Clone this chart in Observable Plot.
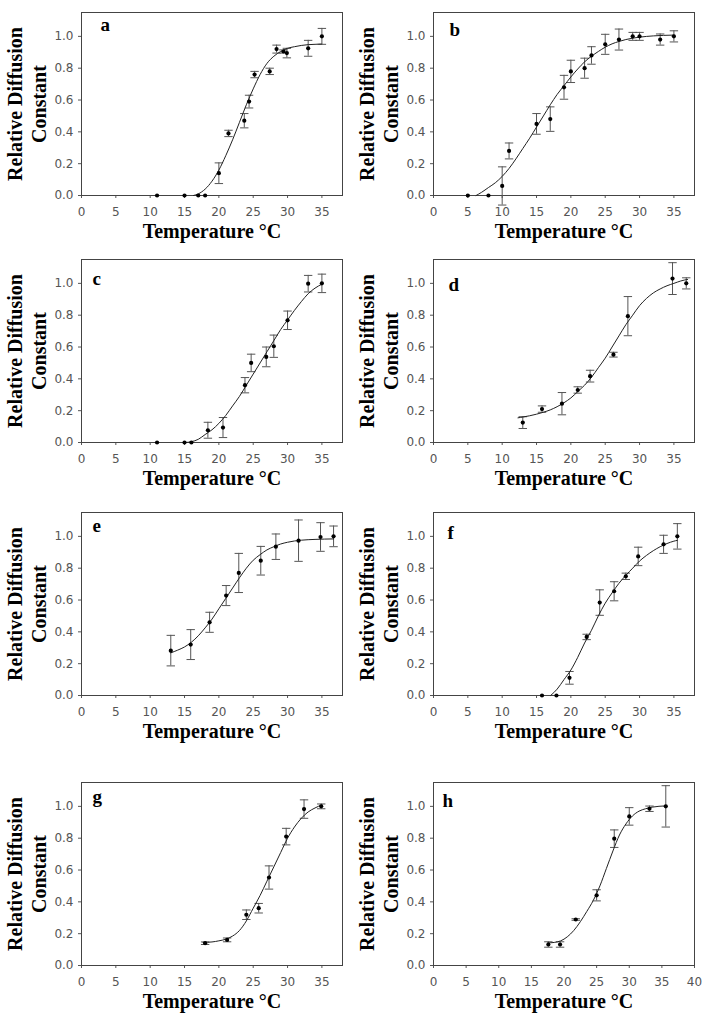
<!DOCTYPE html>
<html><head><meta charset="utf-8">
<script src="https://cdn.jsdelivr.net/npm/d3@7"></script>
<script src="https://cdn.jsdelivr.net/npm/@observablehq/plot@0.6"></script>
<style>
body{margin:0;background:#fff;}
#root{position:relative;width:703px;height:1017px;overflow:hidden;background:#fff;}
.panel{position:absolute;}
</style></head><body><div id="root"></div>
<script>
// ---- data ----
const yTicks = [0, 0.2, 0.4, 0.6, 0.8, 1.0];
const xTicks35 = [0, 5, 10, 15, 20, 25, 30, 35];
const xTicks40 = [0, 5, 10, 15, 20, 25, 30, 35, 40];
const yTitle1 = "Relative Diffusion";
const yTitle2 = "Constant";
const xTitle = "Temperature \u00B0C";

const aTemp = [11, 15, 17, 18, 20, 21.4, 23.7, 24.4, 25.2, 27.4, 28.4, 29.4, 29.9, 33, 35];
const aValue = [0, 0, 0, 0, 0.14, 0.39, 0.47, 0.59, 0.76, 0.78, 0.92, 0.905, 0.895, 0.925, 1.0];
const aErr = [0, 0, 0, 0, 0.065, 0.02, 0.045, 0.04, 0.02, 0.02, 0.025, 0.01, 0.03, 0.05, 0.05];
const aFitTemp = [16.3, 17, 18, 19, 20, 21, 22, 23, 24, 25, 26, 27, 28, 29, 30, 31, 32, 33, 34, 35];
const aFitValue = [0, 0.01, 0.04, 0.09, 0.16, 0.25, 0.35, 0.46, 0.57, 0.67, 0.76, 0.83, 0.875, 0.905, 0.925, 0.935, 0.943, 0.948, 0.95, 0.952];

const bTemp = [5, 8, 10, 11, 15, 17, 19, 20, 22, 23, 25, 27, 29, 30, 33, 35];
const bValue = [0, 0, 0.06, 0.28, 0.45, 0.48, 0.68, 0.78, 0.8, 0.88, 0.95, 0.98, 1.0, 1.0, 0.98, 1.0];
const bErr = [0, 0, 0.12, 0.05, 0.065, 0.077, 0.075, 0.07, 0.063, 0.055, 0.063, 0.066, 0.025, 0.025, 0.035, 0.035];
const bFitTemp = [6.2, 7, 8, 9, 10, 11, 12, 13, 14, 15, 16, 17, 18, 19, 20, 21, 22, 23, 24, 25, 26, 27, 28, 30, 32, 35];
const bFitValue = [0, 0.02, 0.05, 0.08, 0.12, 0.17, 0.23, 0.295, 0.36, 0.43, 0.5, 0.57, 0.635, 0.69, 0.745, 0.795, 0.84, 0.875, 0.905, 0.932, 0.953, 0.968, 0.98, 0.995, 1.003, 1.008];

const cTemp = [11, 15, 16, 18.4, 20.6, 23.8, 24.7, 26.9, 28, 30, 33, 35];
const cValue = [0, 0, 0, 0.077, 0.094, 0.36, 0.5, 0.538, 0.605, 0.768, 0.998, 1.0];
const cErr = [0, 0, 0, 0.05, 0.063, 0.048, 0.055, 0.062, 0.07, 0.058, 0.052, 0.058];
const cFitTemp = [15.2, 16, 17, 18, 19, 20, 21, 22, 23, 24, 25, 26, 27, 28, 29, 30, 31, 32, 33, 34, 35];
const cFitValue = [0, 0.005, 0.02, 0.05, 0.08, 0.12, 0.17, 0.23, 0.29, 0.36, 0.43, 0.5, 0.57, 0.64, 0.71, 0.77, 0.83, 0.885, 0.935, 0.97, 0.995];

const dTemp = [13, 15.8, 18.7, 21, 22.8, 26.2, 28.3, 34.8, 36.8];
const dValue = [0.125, 0.21, 0.244, 0.33, 0.417, 0.552, 0.794, 1.03, 1.0];
const dErr = [0.037, 0.02, 0.07, 0.02, 0.037, 0.015, 0.123, 0.1, 0.035];
const dFitTemp = [12.3, 13, 14, 15, 16, 17, 18, 19, 20, 21, 22, 23, 24, 25, 26, 27, 28, 29, 30, 31, 32, 33, 34, 35, 36, 37];
const dFitValue = [0.155, 0.16, 0.168, 0.178, 0.19, 0.205, 0.225, 0.25, 0.28, 0.32, 0.36, 0.41, 0.47, 0.53, 0.6, 0.67, 0.74, 0.8, 0.86, 0.905, 0.94, 0.965, 0.985, 1.0, 1.015, 1.025];

const eTemp = [13, 15.9, 18.65, 21.06, 22.9, 26.1, 28.3, 31.6, 34.8, 36.7];
const eValue = [0.282, 0.32, 0.46, 0.628, 0.77, 0.847, 0.935, 0.973, 0.996, 1.0];
const eErr = [0.096, 0.094, 0.063, 0.063, 0.123, 0.09, 0.08, 0.13, 0.09, 0.065];
const eFitTemp = [13, 14, 15, 16, 17, 18, 19, 20, 21, 22, 23, 24, 25, 26, 27, 28, 29, 30, 31, 32, 34, 36.7];
const eFitValue = [0.268, 0.285, 0.305, 0.335, 0.375, 0.425, 0.48, 0.545, 0.61, 0.675, 0.74, 0.8, 0.85, 0.885, 0.915, 0.935, 0.952, 0.963, 0.971, 0.976, 0.981, 0.984];

const fTemp = [15.8, 17.9, 19.8, 22.3, 24.2, 26.3, 28.0, 29.8, 33.5, 35.5];
const fValue = [0, 0, 0.111, 0.368, 0.584, 0.655, 0.749, 0.874, 0.95, 1.0];
const fErr = [0, 0, 0.04, 0.017, 0.08, 0.06, 0.02, 0.058, 0.057, 0.08];
const fFitTemp = [17.05, 18, 19, 20, 21, 22, 23, 24, 25, 26, 27, 28, 29, 30, 31, 32, 33, 34, 35, 35.5];
const fFitValue = [0, 0.04, 0.1, 0.16, 0.24, 0.33, 0.41, 0.5, 0.58, 0.645, 0.705, 0.755, 0.8, 0.845, 0.88, 0.91, 0.935, 0.955, 0.97, 0.975];

const gTemp = [18, 21.2, 24, 25.8, 27.3, 29.8, 32.4, 34.9];
const gValue = [0.14, 0.161, 0.319, 0.36, 0.553, 0.81, 0.983, 1.0];
const gErr = [0.008, 0.012, 0.03, 0.03, 0.073, 0.052, 0.058, 0.015];
const gFitTemp = [17.7, 19, 20, 21, 22, 23, 24, 25, 26, 27, 28, 29, 30, 31, 32, 33, 34, 35];
const gFitValue = [0.145, 0.148, 0.155, 0.165, 0.185, 0.22, 0.28, 0.36, 0.44, 0.53, 0.62, 0.71, 0.8, 0.87, 0.925, 0.965, 0.99, 1.01];

const hTemp = [17.6, 19.4, 21.8, 25.0, 27.7, 30.0, 33.1, 35.6];
const hValue = [0.132, 0.132, 0.289, 0.441, 0.797, 0.937, 0.985, 1.0];
const hErr = [0.017, 0.017, 0.005, 0.035, 0.055, 0.055, 0.017, 0.13];
const hFitTemp = [17.5, 18.5, 19.5, 20.5, 21.5, 22.5, 23.5, 24.5, 25.5, 26.5, 27.5, 28.5, 29.5, 30.5, 31.5, 32.5, 33.5, 35.6];
const hFitValue = [0.142, 0.145, 0.155, 0.18, 0.22, 0.275, 0.34, 0.41, 0.5, 0.61, 0.72, 0.82, 0.89, 0.94, 0.97, 0.985, 0.995, 1.003];

// ---- layout ----
const panels = [
  {letter: "a", temp: aTemp, value: aValue, err: aErr, fitT: aFitTemp, fitV: aFitValue, xMax: 38, xt: xTicks35, left: 0, top: 0, lx: 19, ly: 18},
  {letter: "b", temp: bTemp, value: bValue, err: bErr, fitT: bFitTemp, fitV: bFitValue, xMax: 38, xt: xTicks35, left: 352, top: 0, lx: 16, ly: 23},
  {letter: "c", temp: cTemp, value: cValue, err: cErr, fitT: cFitTemp, fitV: cFitValue, xMax: 38, xt: xTicks35, left: 0, top: 247, lx: 11, ly: 25},
  {letter: "d", temp: dTemp, value: dValue, err: dErr, fitT: dFitTemp, fitV: dFitValue, xMax: 38, xt: xTicks35, left: 352, top: 247, lx: 15, ly: 31},
  {letter: "e", temp: eTemp, value: eValue, err: eErr, fitT: eFitTemp, fitV: eFitValue, xMax: 38, xt: xTicks35, left: 0, top: 500, lx: 11, ly: 19},
  {letter: "f", temp: fTemp, value: fValue, err: fErr, fitT: fFitTemp, fitV: fFitValue, xMax: 38, xt: xTicks35, left: 352, top: 500, lx: 14, ly: 26},
  {letter: "g", temp: gTemp, value: gValue, err: gErr, fitT: gFitTemp, fitV: gFitValue, xMax: 38, xt: xTicks35, left: 0, top: 770, lx: 11, ly: 20},
  {letter: "h", temp: hTemp, value: hValue, err: hErr, fitT: hFitTemp, fitV: hFitValue, xMax: 40, xt: xTicks40, left: 352, top: 770, lx: 9, ly: 24}
];

const capSymbol = {
  draw(ctx, size) {
    const w = Math.sqrt(size / Math.PI);
    ctx.moveTo(-w, 0);
    ctx.lineTo(w, 0);
  }
};

const serif = "'Liberation Serif', 'Times New Roman', serif";
const root = document.getElementById("root");

for (const p of panels) {
  const pts = p.temp.map((t, i) => ({t, v: p.value[i], e: p.err[i]}));
  const bars = pts.filter(d => d.e > 0);
  const fit = p.fitT.map((t, i) => ({t, v: p.fitV[i]}));
  const chart = Plot.plot({
    width: 350,
    height: 245,
    marginLeft: 81,
    marginRight: 8,
    marginTop: 12,
    marginBottom: 50,
    style: {background: "transparent", fontFamily: "'DejaVu Sans', sans-serif", fontSize: "12px", color: "#555", overflow: "visible"},
    x: {domain: [0, p.xMax], ticks: p.xt, tickSize: 3, tickPadding: 9, label: null},
    y: {domain: [0, 1.15], ticks: yTicks, tickFormat: d3.format(".1f"), tickSize: 3, tickPadding: 5, label: null},
    marks: [
      Plot.frame({stroke: "#444", strokeWidth: 1}),
      Plot.ruleX(bars, {x: "t", y1: d => d.v - d.e, y2: d => d.v + d.e, stroke: "#555", strokeWidth: 1}),
      Plot.dot(bars, {x: "t", y: d => d.v + d.e, symbol: capSymbol, r: 4.2, stroke: "#555", fill: "none", strokeWidth: 1}),
      Plot.dot(bars, {x: "t", y: d => d.v - d.e, symbol: capSymbol, r: 4.2, stroke: "#555", fill: "none", strokeWidth: 1}),
      Plot.line(fit, {x: "t", y: "v", curve: "monotone-x", stroke: "#222", strokeWidth: 1}),
      Plot.dot(pts, {x: "t", y: "v", r: 2.1, fill: "#000", stroke: "none"}),
      Plot.text([p.letter], {frameAnchor: "top-left", dx: p.lx, dy: p.ly, text: d => d, lineAnchor: "bottom", textAnchor: "start", fontFamily: serif, fontWeight: "bold", fontSize: 19, fill: "#000"}),
      Plot.text([yTitle1], {frameAnchor: "left", dx: -66, rotate: -90, text: d => d, textAnchor: "middle", lineAnchor: "middle", fontFamily: serif, fontWeight: "bold", fontSize: 20, fill: "#000"}),
      Plot.text([yTitle2], {frameAnchor: "left", dx: -42, rotate: -90, text: d => d, textAnchor: "middle", lineAnchor: "middle", fontFamily: serif, fontWeight: "bold", fontSize: 20, fill: "#000"}),
      Plot.text([xTitle], {frameAnchor: "bottom", dy: 42, lineAnchor: "bottom", textAnchor: "middle", text: d => d, fontFamily: serif, fontWeight: "bold", fontSize: 20, fill: "#000"})
    ]
  });
  const div = document.createElement("div");
  div.className = "panel";
  div.style.left = p.left + "px";
  div.style.top = p.top + "px";
  div.appendChild(chart);
  root.appendChild(div);
}
</script>
</body></html>
